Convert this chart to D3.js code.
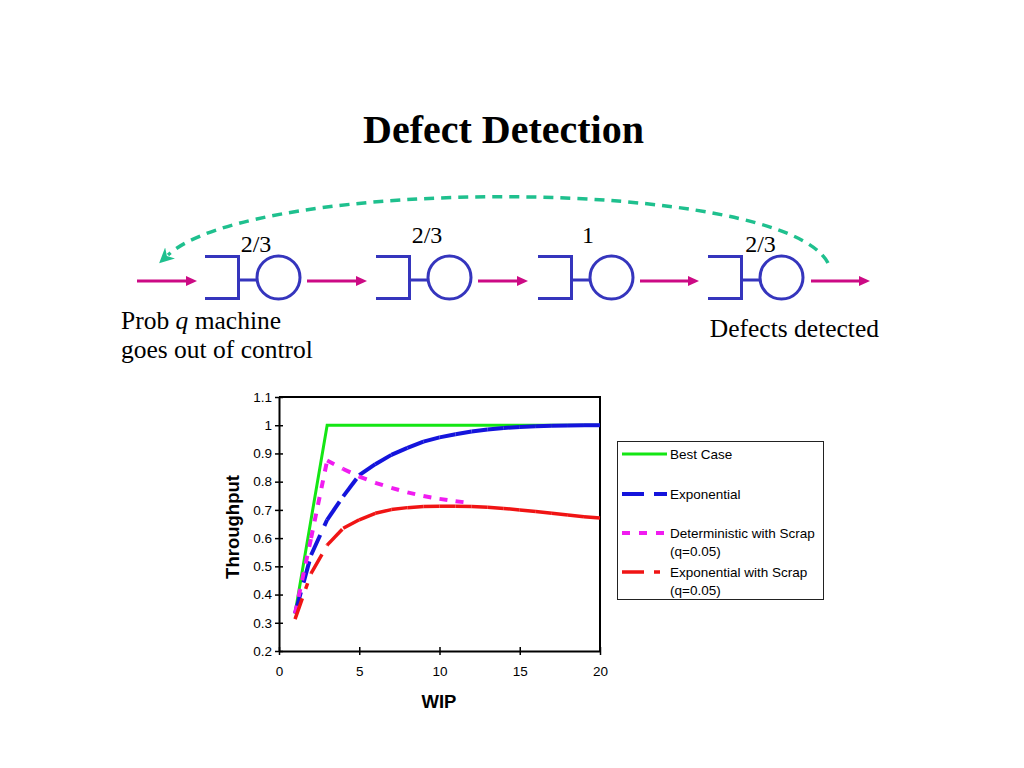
<!DOCTYPE html>
<html><head><meta charset="utf-8">
<script src="https://cdn.jsdelivr.net/npm/d3@7/dist/d3.min.js"></script>
<style>body{margin:0;background:#fff} svg{display:block}</style>
</head><body><svg id="c" width="1024" height="768"></svg>
<script>
// ---------- data ----------
const wip = [1,2,3,4,5,6,7,8,9,10,11,12,13,14,15,16,17,18,19,20];
const bestCase = [0.333,0.667,1,1,1,1,1,1,1,1,1,1,1,1,1,1,1,1,1,1];
const exponential = [0.333,0.540,0.665,0.748,0.823,0.862,0.895,0.920,0.942,0.957,0.968,0.978,0.985,0.990,0.994,0.996,0.998,0.999,1.0,1.0];
const detScrapWip = [1,2,3,4,5,6,7,8,9,10,11,12];
const detScrap = [0.333,0.600,0.875,0.845,0.818,0.796,0.778,0.762,0.749,0.739,0.731,0.724];
const expScrap = [0.313,0.475,0.575,0.635,0.665,0.688,0.701,0.708,0.712,0.713,0.713,0.712,0.709,0.705,0.700,0.694,0.688,0.682,0.676,0.671];
const yTicks = [0.2,0.3,0.4,0.5,0.6,0.7,0.8,0.9,1.0,1.1];
const yTickLabels = ["0.2","0.3","0.4","0.5","0.6","0.7","0.8","0.9","1","1.1"];
const xTicks = [0,5,10,15,20];
const seriesNames = [["Best Case"],["Exponential"],["Deterministic with Scrap","(q=0.05)"],["Exponential with Scrap","(q=0.05)"]];
const stationRates = ["2/3","2/3","1","2/3"];
const titleText = "Defect Detection";

// ---------- setup ----------
const svg = d3.select("#c");
svg.append("rect").attr("width",1024).attr("height",768).attr("fill","#fff");
const serif = "'Liberation Serif','Times New Roman',serif";
const sans = "'Liberation Sans',Arial,sans-serif";

svg.append("text").attr("x",503.5).attr("y",142.5).attr("text-anchor","middle")
  .attr("font-family",serif).attr("font-weight","bold").attr("font-size",40).text(titleText);

// ---------- diagram ----------
const stationX = [205,376,538,708];
const stationCol = "#3535bd";
const arrowCol = "#cc0a84";
const dg = svg.append("g");
stationX.forEach((bx,i)=>{
  dg.append("path").attr("d",`M${bx},256.5 H${bx+33.5} V298.5 H${bx}`)
    .attr("fill","none").attr("stroke",stationCol).attr("stroke-width",3);
  dg.append("line").attr("x1",bx+33.5).attr("x2",bx+52).attr("y1",280).attr("y2",280)
    .attr("stroke",stationCol).attr("stroke-width",3);
  dg.append("circle").attr("cx",bx+73.5).attr("cy",277.5).attr("r",21.5)
    .attr("fill","none").attr("stroke",stationCol).attr("stroke-width",3);
});
const labelPos = [[256,251.5],[427,243],[588,243],[760.5,251.5]];
stationRates.forEach((r,i)=>{
  dg.append("text").attr("x",labelPos[i][0]).attr("y",labelPos[i][1]).attr("text-anchor","middle")
    .attr("font-family",serif).attr("font-size",24).text(r);
});
const arrows = [[137,197],[307,367],[478,528],[640,699],[811,870]];
arrows.forEach(a=>{
  dg.append("line").attr("x1",a[0]).attr("x2",a[1]-9).attr("y1",281).attr("y2",281)
    .attr("stroke",arrowCol).attr("stroke-width",3);
  dg.append("path").attr("d",`M${a[1]},281 L${a[1]-11},276 L${a[1]-11},286 Z`).attr("fill",arrowCol);
});
// feedback arc
const teal = "#1fc08e";
const defs = svg.append("defs");
defs.append("marker").attr("id","ah").attr("viewBox","0 0 10 10").attr("refX",2).attr("refY",5)
  .attr("markerWidth",4.3).attr("markerHeight",4.3).attr("markerUnits","strokeWidth").attr("orient","auto")
  .append("path").attr("d","M0,0 L10,5 L0,10 L3,5 Z").attr("fill",teal);
dg.append("path").attr("d","M828,263 C782,176 254,176 168,255")
  .attr("fill","none").attr("stroke",teal).attr("stroke-width",3.5).attr("stroke-dasharray","10,7")
  .attr("marker-end","url(#ah)");

const t1 = dg.append("text").attr("x",121).attr("y",329).attr("font-family",serif).attr("font-size",25.5);
t1.append("tspan").text("Prob ");
t1.append("tspan").attr("font-style","italic").text("q");
t1.append("tspan").text(" machine");
dg.append("text").attr("x",121).attr("y",358).attr("font-family",serif).attr("font-size",25.5).text("goes out of control");
dg.append("text").attr("x",879).attr("y",337).attr("text-anchor","end").attr("font-family",serif).attr("font-size",25.5).text("Defects detected");

// ---------- chart ----------
const x = d3.scaleLinear().domain([0,20]).range([279,600]);
const y = d3.scaleLinear().domain([0.2,1.1]).range([651,397]);
const cg = svg.append("g").attr("font-family",sans);

const yAxis = cg.append("g").attr("transform","translate(279,0)")
  .call(d3.axisLeft(y).tickValues(yTicks).tickFormat((d,i)=>yTickLabels[i]).tickSize(4).tickSizeOuter(0).tickPadding(3));
yAxis.selectAll(".tick line").attr("x1",4).attr("stroke-width",1.5);
yAxis.selectAll(".tick text").attr("font-size",13.5).attr("font-family",sans).attr("fill","#000");
yAxis.select(".domain").attr("stroke-width",2);

const xAxis = cg.append("g").attr("transform","translate(0,651)")
  .call(d3.axisBottom(x).tickValues(xTicks).tickFormat(d3.format("d")).tickSize(4).tickSizeOuter(0).tickPadding(11.5));
xAxis.selectAll(".tick line").attr("y1",-4).attr("stroke-width",1.5);
xAxis.selectAll(".tick text").attr("font-size",13.5).attr("font-family",sans).attr("fill","#000");
xAxis.select(".domain").attr("stroke-width",2);

cg.append("path").attr("d",`M${x(0)},${y(1.1)} H${x(20)} V${y(0.2)}`)
  .attr("fill","none").attr("stroke","#000").attr("stroke-width",2);

cg.append("text").attr("transform","translate(239,527) rotate(-90)").attr("text-anchor","middle")
  .attr("font-weight","bold").attr("font-size",18.5).text("Throughput");
cg.append("text").attr("x",439).attr("y",708).attr("text-anchor","middle")
  .attr("font-weight","bold").attr("font-size",18.5).text("WIP");

const styles = [
  {col:"#14e614", w:3, dash:null},
  {col:"#1414dc", w:4, dash:"22,10"},
  {col:"#f01cf0", w:4, dash:"8,9"},
  {col:"#f01414", w:3.5, dash:"22,10,6,10"}
];
const seriesData = [
  wip.map((w,i)=>[w,bestCase[i]]),
  wip.map((w,i)=>[w,exponential[i]]),
  detScrapWip.map((w,i)=>[w,detScrap[i]]),
  wip.map((w,i)=>[w,expScrap[i]])
];
const line = d3.line().x(d=>x(d[0])).y(d=>y(d[1]));
seriesData.forEach((pts,si)=>{
  const st = styles[si];
  const g = cg.append("g");
  if(!st.dash){
    g.append("path").attr("d",line(pts)).attr("fill","none").attr("stroke",st.col)
      .attr("stroke-width",st.w).attr("stroke-linejoin","miter");
  } else {
    // dash pattern restarts on each segment (as in the original spreadsheet rendering)
    d3.pairs(pts).forEach(p=>{
      g.append("path").attr("d",line(p)).attr("fill","none").attr("stroke",st.col)
        .attr("stroke-width",st.w).attr("stroke-dasharray",st.dash);
    });
  }
});

// legend
const lg = cg.append("g");
lg.append("rect").attr("x",617.5).attr("y",441.5).attr("width",206).attr("height",158)
  .attr("fill","#fff").attr("stroke","#222").attr("stroke-width",1);
const legY = [454,494,533,572];
seriesNames.forEach((nm,i)=>{
  const st = styles[i];
  lg.append("line").attr("x1",622).attr("x2",667).attr("y1",legY[i]).attr("y2",legY[i])
    .attr("stroke",st.col).attr("stroke-width",st.w).attr("stroke-dasharray",st.dash);
  nm.forEach((s,j)=>{
    lg.append("text").attr("x",670).attr("y",legY[i]+5+j*18).attr("font-size",13.5).text(s);
  });
});
</script></body></html>
